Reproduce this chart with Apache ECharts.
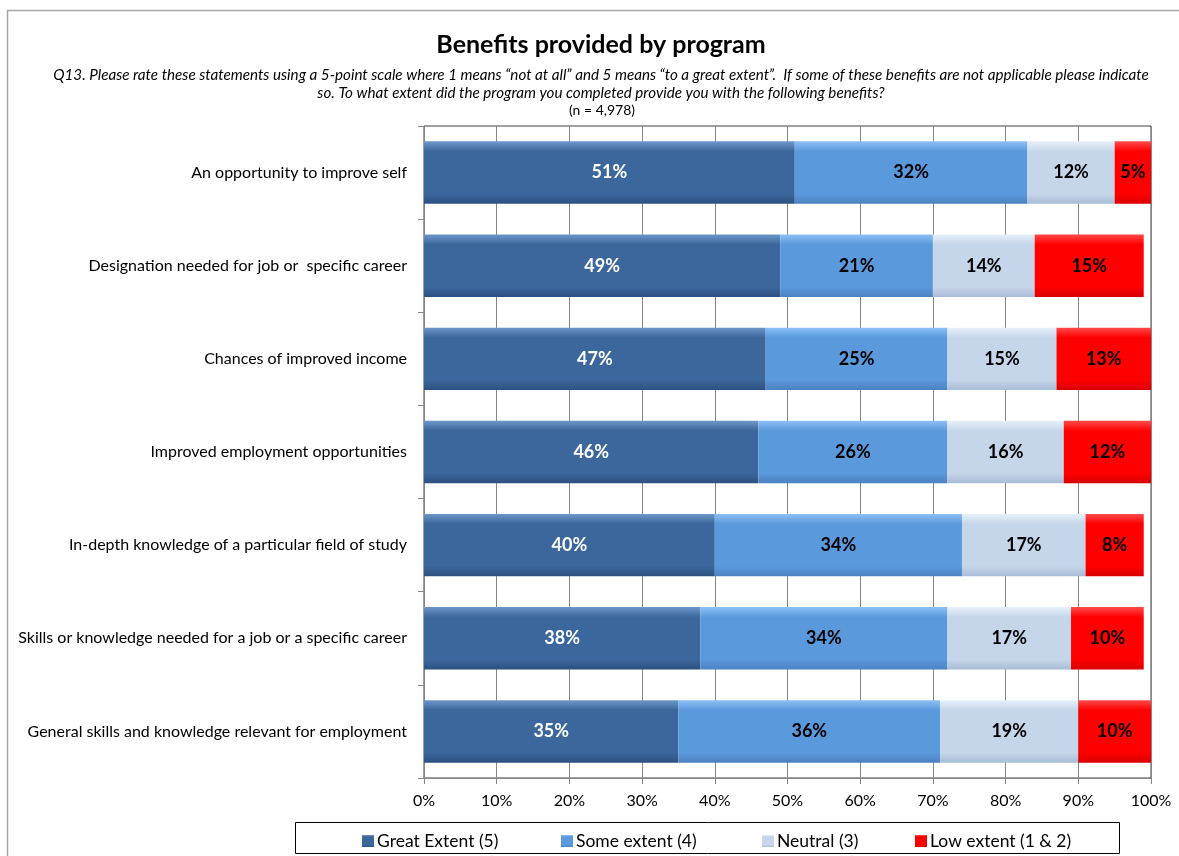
<!DOCTYPE html>
<html>
<head>
<meta charset="utf-8">
<title>Benefits provided by program</title>
<script src="https://cdn.jsdelivr.net/npm/echarts@6/dist/echarts.min.js"></script>
<style>
  html, body { margin: 0; padding: 0; background: #ffffff; }
  #chart { width: 1179px; height: 856px; }
</style>
</head>
<body>
<div id="chart"></div>
<script>
// Survey statements (top to bottom)
const categories = [
  'An opportunity to improve self',
  'Designation needed for job or  specific career',
  'Chances of improved income',
  'Improved employment opportunities',
  'In-depth knowledge of a particular field of study',
  'Skills or knowledge needed for a job or a specific career',
  'General skills and knowledge relevant for employment'
];

// Share of respondents (%) per rating group
const greatExtent = [51, 49, 47, 46, 40, 38, 35];
const someExtent  = [32, 21, 25, 26, 34, 34, 36];
const neutral     = [12, 14, 15, 16, 17, 17, 19];
const lowExtent   = [5, 15, 13, 12, 8, 10, 10];

const seriesNames = ['Great Extent (5)', 'Some extent (4)', 'Neutral (3)', 'Low extent (1 & 2)'];
const xTicks = [0, 10, 20, 30, 40, 50, 60, 70, 80, 90, 100];

const FONT = 'Lato, "Open Sans", sans-serif';

// Vertical gradient giving each bar a bevelled look
function bevel(top, mid, bottom) {
  return new echarts.graphic.LinearGradient(0, 0, 0, 1, [
    { offset: 0, color: top },
    { offset: 0.16, color: mid },
    { offset: 0.84, color: mid },
    { offset: 1, color: bottom }
  ]);
}

const styles = [
  { fill: bevel('#6d97c9', '#3c679c', '#2c5080'), label: '#ffffff' },
  { fill: bevel('#8cc0f4', '#5b99dd', '#4a82c0'), label: '#000000' },
  { fill: bevel('#e6f0fa', '#c6d6ea', '#a8bcd6'), label: '#000000' },
  { fill: bevel('#ff4a4a', '#ff0000', '#d80000'), label: '#000000' }
];

const values = [greatExtent, someExtent, neutral, lowExtent];

const series = values.map((arr, i) => ({
  name: seriesNames[i],
  type: 'bar',
  stack: 'total',
  barCategoryGap: '33%',
  data: arr,
  itemStyle: { color: styles[i].fill },
  label: {
    show: true,
    position: 'inside',
    formatter: p => p.value + '%',
    color: styles[i].label,
    fontFamily: FONT,
    fontWeight: 'bold',
    fontSize: 18
  },
  emphasis: { disabled: true }
}));

// One legend block per entry so each sits at its own place in the boxed key
const legendLeft = [357, 556, 757, 910];
const legends = seriesNames.map((name, i) => ({
  data: [name],
  left: legendLeft[i], top: 827,
  itemWidth: 12, itemHeight: 12, itemGap: 0,
  icon: 'rect',
  textStyle: { fontFamily: FONT, fontSize: 17.5, color: '#000', padding: [0, 0, 0, -2] },
  selectedMode: false,
  z: 10
}));

const chart = echarts.init(document.getElementById('chart'), null, { renderer: 'canvas' });

chart.setOption({
  backgroundColor: '#ffffff',
  animation: false,
  title: [
    {
      text: 'Benefits provided by program',
      left: 596, top: 27, textAlign: 'center',
      textStyle: { fontFamily: FONT, fontWeight: 'bold', fontSize: 25, color: '#000' }
    },
    {
      text: 'Q13. Please rate these statements using a 5-point scale where 1 means \u201cnot at all\u201d and 5 means \u201cto a great extent\u201d.  If some of these benefits are not applicable please indicate\nso. To what extent did the program you completed provide you with the following benefits?',
      left: 596, top: 61, textAlign: 'center',
      textStyle: { fontFamily: FONT, fontStyle: 'italic', fontWeight: 'normal', fontSize: 15.2, lineHeight: 18, color: '#000', align: 'center' }
    },
    {
      text: '(n = 4,978)',
      left: 597, top: 98, textAlign: 'center',
      textStyle: { fontFamily: FONT, fontWeight: 'normal', fontSize: 14, color: '#000' }
    }
  ],
  graphic: [
    {
      type: 'rect', silent: true, z: -1,
      shape: { x: 7.5, y: 10.5, width: 1200, height: 900 },
      style: { fill: 'none', stroke: '#a6a6a6', lineWidth: 1.5 }
    },
    {
      type: 'rect', silent: true,
      shape: { x: 295.5, y: 822.5, width: 824, height: 31 },
      style: { fill: '#ffffff', stroke: '#000000', lineWidth: 1 }
    }
  ],
  legend: legends,
  grid: {
    left: 424, right: 28, top: 126, bottom: 78,
    show: true, borderColor: '#404040', borderWidth: 1
  },
  xAxis: {
    type: 'value', min: 0, max: 100, interval: 10,
    axisLine: { show: true, lineStyle: { color: '#868686' } },
    axisTick: { show: true, length: 6, lineStyle: { color: '#868686' } },
    splitLine: { show: true, lineStyle: { color: '#868686', width: 1 } },
    axisLabel: {
      margin: 15,
      formatter: v => (xTicks.indexOf(v) >= 0 ? v + '%' : ''),
      fontFamily: FONT, fontSize: 16, color: '#000'
    }
  },
  yAxis: {
    type: 'category', inverse: true, data: categories,
    axisLine: { show: true, lineStyle: { color: '#868686' } },
    axisTick: { show: true, length: 6, lineStyle: { color: '#868686' } },
    axisLabel: { margin: 17, fontFamily: FONT, fontSize: 16, color: '#000' }
  },
  series: series
});
</script>
</body>
</html>
